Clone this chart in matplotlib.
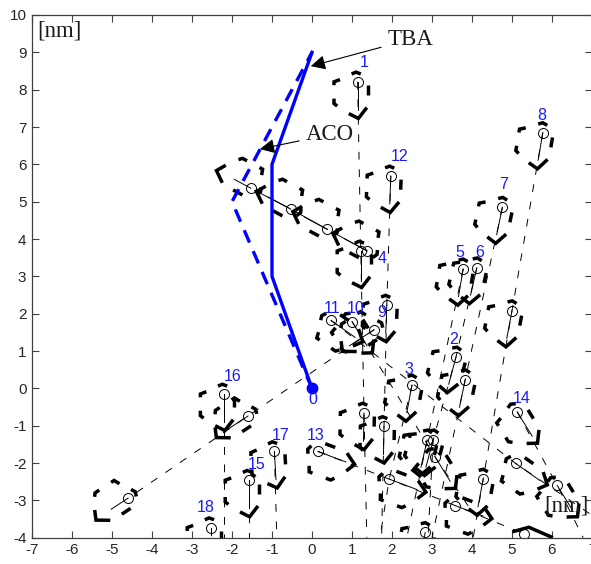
import numpy as np
import matplotlib
matplotlib.use("Agg")
import matplotlib.pyplot as plt

plt.rcParams['font.family'] = ['Liberation Sans', 'DejaVu Sans']
plt.rcParams['axes.unicode_minus'] = False

# Blue reference paths
tba_x = [0, -1, -1, 0]
tba_y = [0, 3, 6, 9]
aco_x = [0, -2, 0]
aco_y = [0, 5, 9]

# Molecule positions, heading of each hexagon (degrees) and length of its solid stem
head_x = [1.14, 5.77, 4.76, 1.97, 3.78, 4.12, 5.0, 1.22, 1.87, 1.3, 1.8, 2.5, 3.6, 3.83,
          2.88, 3.03, 4.28, 2.83, -2.2, -0.94, -1.58, -2.53,
          -1.53, -0.53, 0.38, 1.38,
          1.55, -1.6, -4.61,
          0.475, 5.09,
          1.0, 3.08,
          5.13, 6.13,
          0.15, 1.93, 3.58]
head_y = [8.21, 6.85, 4.85, 5.69, 3.2, 3.23, 2.08, 3.68, 2.23, -0.66, -1.02, 0.09, 0.84, 0.23,
          -1.38, -1.38, -2.43, -3.86, -0.15, -1.69, -2.46, -3.73,
          5.36, 4.8, 4.26, 3.68,
          1.57, -0.74, -2.95,
          1.82, -2.01,
          1.79, -1.84,
          -0.63, -2.6,
          -1.69, -2.43, -3.14]
heading = [-90, -99, -101, -92, -99, -102, -100, -90, -92, -91, -91, -100, -104, -101,
           -102, -104, -100, -100, -90, -87, -90, -90,
           150, 150, 150, 150,
           215, 215, 215,
           -37, -37,
           -60, -60,
           -60, -60,
           -22, -22, -22]
stem_len = [0.75, 0.75, 0.75, 0.75, 0.75, 0.75, 0.75, 0.75, 0.75, 0.75, 0.75, 0.75, 0.75, 0.75,
            0.75, 0.75, 0.75, 0.75, 0.75, 0.75, 0.75, 0.2,
            0.48, 0.65, 0.65, 0.65,
            0.75, 0.75, 0.5,
            0.75, 0.75,
            0.75, 0.75,
            0.75, 0.75,
            0.75, 0.75, 0.75]

# Last molecule at the bottom edge, only its roof shows
last_x = [5.31]
last_y = [-3.9]
roof_x = [5.05, 5.42, 5.98]
roof_y = [-3.83, -3.72, -3.98]

# Dashed trails
trails = [
    ([1.14, 1.22, 1.30, 1.37], [8.21, 3.68, -0.66, -4]),
    ([1.97, 1.87, 1.80, 1.74], [5.69, 2.23, -1.02, -4]),
    ([5.77, 5.0, 4.28, 4.03], [6.85, 2.08, -2.43, -4]),
    ([4.76, 3.83, 3.0], [4.85, 0.23, -4]),
    ([4.12, 3.6, 3.03, 2.9], [3.23, 0.84, -1.38, -4]),
    ([3.78, 2.88, 2.37], [3.2, -1.38, -4]),
    ([2.5, 1.93, 1.7], [0.09, -2.43, -4]),
    ([-2.2, -2.2], [-0.15, -4]),
    ([-1.58, -1.58], [-2.46, -4]),
    ([-0.94, -0.88], [-1.69, -4]),
    ([-2.53, -2.53], [-3.73, -4]),
    ([1.55, -1.6, -4.61], [1.57, -0.74, -2.95]),
    ([0.475, 5.09, 7.0], [1.82, -2.01, -3.4]),
    ([1.0, 3.08, 4.0], [1.79, -1.84, -3.3]),
    ([5.13, 6.13, 6.78], [-0.63, -2.6, -4]),
    ([0.15, 1.93, 3.58, 5.31], [-1.69, -2.43, -3.14, -3.9]),
]

# Solid link of the row running up to the left
row_x = [1.38, 0.38, -0.53, -1.53]
row_y = [3.68, 4.26, 4.8, 5.36]

# Broken hexagon outline, nm relative to the circle for a heading of -90
hex_dashes = [
    [(-0.15, 0.21), (-0.04, 0.26), (0.08, 0.21)],
    [(0.26, -0.09), (0.26, -0.36)],
    [(-0.22, -0.85), (0.02, -0.98), (0.23, -0.69)],
    [(-0.51, -0.65), (-0.59, -0.58), (-0.59, -0.45)],
    [(-0.44, 0.06), (-0.59, 0.0), (-0.59, -0.09)],
]

label_text = ['1', '8', '7', '12', '5', '6', '4', '11', '10', '9', '2', '3', '14', '16', '17', '15', '13', '18', '0']
label_x = [1.3, 5.75, 4.78, 2.18, 3.7, 4.18, 1.75, 0.5, 1.1, 1.75, 3.55, 2.43, 5.25, -1.98, -0.78, -1.38, 0.1, -2.65, 0.02]
label_y = [8.72, 7.32, 5.45, 6.2, 3.65, 3.65, 3.47, 2.15, 2.15, 2.02, 1.3, 0.5, -0.28, 0.33, -1.27, -2.03, -1.25, -3.2, -0.3]

fig = plt.figure(figsize=(5.91, 5.64), dpi=100)
ax = fig.add_axes([32 / 591, 26.3 / 564, 560 / 591, 522.7 / 564])

# Trails
for tx, ty in trails:
    ax.plot(tx, ty, color='black', lw=0.7, linestyle=(0, (8, 10)))
ax.plot(row_x, row_y, color='black', lw=0.7, linestyle=(0, (40, 6)))

# Hexagons, solid stems and circles
for x, y, h, l in zip(head_x, head_y, heading, stem_len):
    a = np.radians(h + 90)
    c, s = np.cos(a), np.sin(a)
    for seg in hex_dashes:
        sx = [x + p[0] * c - p[1] * s for p in seg]
        sy = [y + p[0] * s + p[1] * c for p in seg]
        ax.plot(sx, sy, color='black', lw=2.5, solid_capstyle='butt', solid_joinstyle='miter')
    ax.plot([x, x + l * np.cos(np.radians(h))], [y, y + l * np.sin(np.radians(h))], color='black', lw=0.7)
    ax.plot(x, y, 'o', mfc='none', mec='black', mew=0.7, ms=7.2)

ax.plot(roof_x, roof_y, color='black', lw=2.5, solid_joinstyle='miter')
ax.plot(last_x, last_y, 'o', mfc='none', mec='black', mew=0.7, ms=7.2)

# Blue paths
ax.plot(tba_x, tba_y, color='#0000ff', lw=2.4, solid_joinstyle='miter')
ax.plot(aco_x, aco_y, color='#0000ff', lw=2.4, linestyle=(0, (4, 2.8)))
ax.plot(0, 0, 'o', color='#0000ff', ms=7.5)

for t, x, y in zip(label_text, label_x, label_y):
    ax.text(x, y, t, color='#1a1aff', fontsize=11.5, ha='center', va='center')

ax.annotate('TBA', xy=(-0.03, 8.63), xytext=(1.9, 9.35), family='Liberation Serif', fontsize=16.5,
            color='#1a1a1a', va='center',
            arrowprops=dict(arrowstyle='-|>', color='black', lw=0.8, mutation_scale=22, shrinkA=3, shrinkB=0))
ax.annotate('ACO', xy=(-1.3, 6.41), xytext=(-0.15, 6.8), family='Liberation Serif', fontsize=16.5,
            color='#1a1a1a', va='center',
            arrowprops=dict(arrowstyle='-|>', color='black', lw=0.8, mutation_scale=22, shrinkA=3, shrinkB=0))
ax.text(-6.87, 9.56, '[nm]', family='Liberation Serif', fontsize=16.5, color='#1a1a1a', va='center')
ax.text(5.8, -3.15, '[nm]', family='Liberation Serif', fontsize=16.5, color='#1a1a1a', va='center')

ax.set_xlim(-7, 7)
ax.set_ylim(-4, 10)
ax.set_xticks(range(-7, 8))
ax.set_yticks(range(-4, 11))
ax.tick_params(direction='in', top=True, right=True, length=5, width=0.8, labelsize=11,
               labelcolor='#262626', color='#404040', pad=4)
for sp in ax.spines.values():
    sp.set_color('#404040')
    sp.set_linewidth(0.9)

fig.savefig('out.png', dpi=100)
